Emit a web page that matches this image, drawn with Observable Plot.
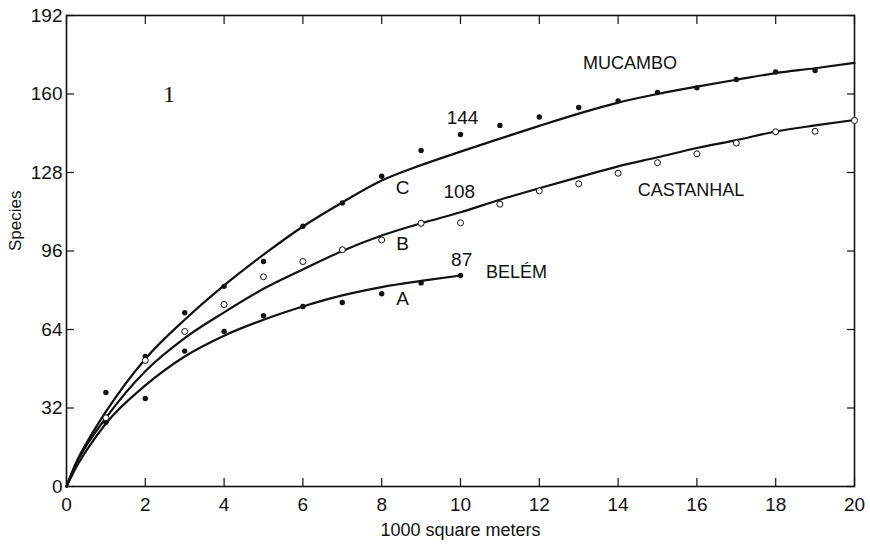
<!DOCTYPE html>
<html><head><meta charset="utf-8">
<script src="https://cdn.jsdelivr.net/npm/d3@7"></script>
<script src="https://cdn.jsdelivr.net/npm/@observablehq/plot@0.6"></script>
<style>
body{margin:0;background:#fff}
#chart svg{font-family:"Liberation Sans",Arial,sans-serif}
</style>
</head><body><div id="chart"></div>
<script>
// ---- data ----
const xTicks = [0,2,4,6,8,10,12,14,16,18,20];
const yTicks = [0,32,64,96,128,160,192];

// observed points (x = 1..n, 1000 m^2)
const mucamboX = [1,2,3,4,5,6,7,8,9,10,11,12,13,14,15,16,17,18,19];
const mucamboY = [38.3,53,70.8,81.6,91.7,106.1,115.6,126.5,137,143.5,147.2,150.6,154.5,157.2,160.6,162.5,165.9,169,169.6];
const castanhalX = [1,2,3,4,5,6,7,8,9,10,11,12,13,14,15,16,17,18,19,20];
const castanhalY = [28,51.4,63.2,74.2,85.5,91.7,96.5,100.5,107.3,107.5,115.1,120.5,123.4,127.7,132,135.6,140,144.6,144.8,149.2];
const belemX = [1,2,3,4,5,6,7,8,9,10];
const belemY = [26.2,35.9,55.2,63.2,69.6,73.4,75,78.6,83,86];

// fitted curves
const curveX20 = [0,0.25,0.5,1,2,3,4,5,6,7,8,9,10,11,12,13,14,15,16,17,18,19,20];
const mucamboCurve = [0,10,17.5,30.5,52,68,82,94.5,106,115.8,124.7,131,136.5,141.8,147,152,156.5,160,163,165.8,168.5,170.5,172.7];
const castanhalCurve = [0,9.5,16.5,28,47,60.5,71,80.6,88.5,96,102.3,107.3,111.8,116.9,121.6,126.1,130.5,134.2,138,141.2,144.7,147.2,149.4];
const curveX10 = [0,0.25,0.5,1,2,3,4,5,6,7,8,9,10];
const belemCurve = [0,8,14.5,25.7,41.2,53,61.5,68,73.4,77.9,81.3,83.8,86];

// annotations
const siteLabels = [
  {x:14.3, y:172.4, t:"MUCAMBO"},
  {x:15.85, y:120.7, t:"CASTANHAL"},
  {x:11.42, y:87.2, t:"BELÉM"}
];
const letterLabels = [
  {x:8.53, y:121.9, t:"C"},
  {x:8.53, y:99, t:"B"},
  {x:8.53, y:76.6, t:"A"}
];
const countLabels = [
  {x:10.05, y:150.4, t:"144"},
  {x:9.97, y:119.9, t:"108"},
  {x:10.03, y:92.5, t:"87"}
];
const figLabel = [{x:2.6, y:160, t:"1"}];
const xLabel = "1000 square meters";
const yLabel = "Species";

const pts = (xs, ys) => xs.map((x,i) => ({x, y: ys[i]}));

const plot = Plot.plot({
  width: 870, height: 548,
  marginLeft: 66, marginRight: 16, marginTop: 15, marginBottom: 62,
  style: {fontFamily: "Liberation Sans, Arial, sans-serif", fontSize: "18px", color: "#111", background: "#fff"},
  x: {domain: [0,20]},
  y: {domain: [0,192]},
  marks: [
    Plot.frame({stroke: "#111", strokeWidth: 1.6}),
    Plot.axisX(xTicks, {anchor: "bottom", tickSize: -8, fill: "none", label: null, strokeWidth: 1.2}),
    Plot.axisX(xTicks, {anchor: "top", tickSize: -8, fill: "none", label: null, strokeWidth: 1.2}),
    Plot.axisY(yTicks, {anchor: "left", tickSize: -8, fill: "none", label: null, strokeWidth: 1.2}),
    Plot.axisY(yTicks, {anchor: "right", tickSize: -8, fill: "none", label: null, strokeWidth: 1.2}),
    Plot.axisX(xTicks, {anchor: "bottom", tickSize: 0, tickPadding: 11, fontSize: 19, label: null}),
    Plot.axisY(yTicks, {anchor: "left", tickSize: 0, tickPadding: 4, fontSize: 19, label: null}),
    Plot.text([xLabel], {frameAnchor: "bottom", dy: 49, fontSize: 18, text: d => d, fill: "#111", style: "letter-spacing:0.6px"}),
    Plot.text([yLabel], {frameAnchor: "left", dx: -51, dy: 0, rotate: -90, fontSize: 17, text: d => d, fill: "#111"}),
    Plot.line(pts(curveX20, mucamboCurve), {x: "x", y: "y", curve: "monotone-x", stroke: "#111", strokeWidth: 2.2}),
    Plot.line(pts(curveX20, castanhalCurve), {x: "x", y: "y", curve: "monotone-x", stroke: "#111", strokeWidth: 2.2}),
    Plot.line(pts(curveX10, belemCurve), {x: "x", y: "y", curve: "monotone-x", stroke: "#111", strokeWidth: 2.2}),
    Plot.dot(pts(mucamboX, mucamboY), {x: "x", y: "y", r: 2.7, fill: "#111", stroke: "none"}),
    Plot.dot(pts(belemX, belemY), {x: "x", y: "y", r: 2.7, fill: "#111", stroke: "none"}),
    Plot.dot(pts(castanhalX, castanhalY), {x: "x", y: "y", r: 3, fill: "#fff", stroke: "#111", strokeWidth: 1}),
    Plot.text(siteLabels, {x: "x", y: "y", text: "t", fontSize: 18, fill: "#111"}),
    Plot.text(letterLabels, {x: "x", y: "y", text: "t", fontSize: 19, fill: "#111"}),
    Plot.text(countLabels, {x: "x", y: "y", text: "t", fontSize: 19, fill: "#111"}),
    Plot.text(figLabel, {x: "x", y: "y", text: "t", fontSize: 24, fontFamily: "Liberation Serif, serif", fill: "#111"})
  ]
});
document.getElementById("chart").appendChild(plot);
</script>
</body></html>
